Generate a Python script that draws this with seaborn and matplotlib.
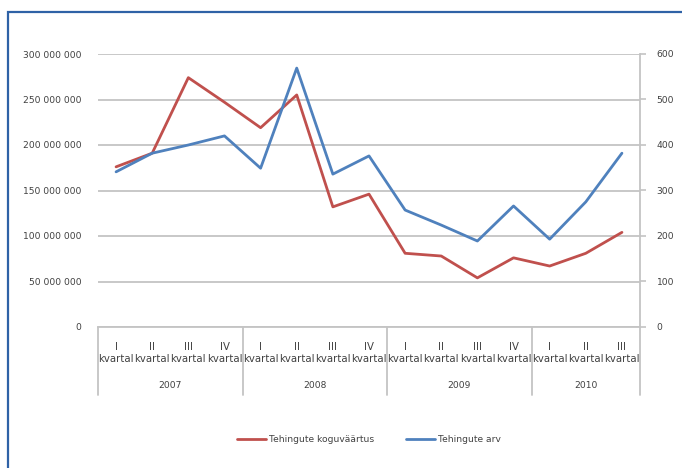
import matplotlib
matplotlib.use("Agg")
import matplotlib.pyplot as plt
import matplotlib.patches as mpatches
import matplotlib.transforms as mtransforms
from matplotlib.ticker import FuncFormatter
import numpy as np
import pandas as pd
import seaborn as sns

# Quarterly transaction data 2007-2010
years = ["2007", "2008", "2009", "2010"]
quarters = ["I", "II", "III", "IV",
            "I", "II", "III", "IV",
            "I", "II", "III", "IV",
            "I", "II", "III"]
quarter_years = ["2007"] * 4 + ["2008"] * 4 + ["2009"] * 4 + ["2010"] * 3
total_value = [176e6, 191e6, 274e6, 247e6,
               219e6, 255e6, 132e6, 146e6,
               81e6, 78e6, 54e6, 76e6,
               67e6, 81e6, 104e6]
deal_count = [341, 382, 400, 420,
              349, 569, 336, 376,
              257, 224, 189, 266,
              193, 275, 382]
left_ticks = [0, 50e6, 100e6, 150e6, 200e6, 250e6, 300e6]
right_ticks = [0, 100, 200, 300, 400, 500, 600]
value_label = "Tehingute koguväärtus"
count_label = "Tehingute arv"

RED = "#c0504d"
BLUE = "#4f81bd"
GRID = "#c4c4c4"
TEXT = "#404040"

df = pd.DataFrame({
    "pos": np.arange(len(quarters)),
    "value": total_value,
    "count": deal_count,
})

sns.set_theme(style="white")
plt.rcParams["font.family"] = ["DejaVu Sans"]

W, H = 682, 468
fig = plt.figure(figsize=(W / 100, H / 100), dpi=100)
fig.patch.set_facecolor("white")

x0, x1, y0, y1 = 98, 640, 54, 327
ax = fig.add_axes([x0 / W, 1 - y1 / H, (x1 - x0) / W, (y1 - y0) / H])
ax2 = ax.twinx()

sns.lineplot(data=df, x="pos", y="value", ax=ax, color=RED, lw=2.0,
             label=value_label, legend=False)
sns.lineplot(data=df, x="pos", y="count", ax=ax2, color=BLUE, lw=2.0,
             label=count_label, legend=False)

ax.set_xlim(-0.5, len(quarters) - 0.5)
ax.set_ylim(0, 300e6)
ax2.set_ylim(0, 600)
ax.set_yticks(left_ticks)
ax2.set_yticks(right_ticks)
ax.yaxis.set_major_formatter(FuncFormatter(lambda v, p: f"{int(v):,}".replace(",", " ")))
ax.grid(axis="y", color=GRID, lw=1.3)
ax.grid(axis="x", visible=False)
ax2.grid(False)
ax.set_axisbelow(True)
ax.set_xlabel("")
ax.set_ylabel("")
ax2.set_xlabel("")
ax2.set_ylabel("")

for a in (ax, ax2):
    for s in a.spines.values():
        s.set_visible(False)
ax.spines["bottom"].set_visible(True)
ax.spines["bottom"].set_color(GRID)
ax.spines["bottom"].set_linewidth(1.3)
ax2.spines["right"].set_visible(True)
ax2.spines["right"].set_color(GRID)
ax2.spines["right"].set_linewidth(1.3)

ax.tick_params(axis="y", length=0, pad=12, labelsize=6.6, labelcolor=TEXT)
ax2.tick_params(axis="y", length=4, width=1.2, color=GRID, pad=8,
                labelsize=6.6, labelcolor=TEXT)

ax.set_xticks(df["pos"])
ax.set_xticklabels([f"{q}\nkvartal" for q in quarters], fontsize=7.3,
                   color=TEXT, linespacing=1.25)
ax.tick_params(axis="x", length=0, pad=11)

# Year groups under the quarter labels
trans = mtransforms.blended_transform_factory(ax.transData, ax.transAxes)
sep_bottom = -(395 - y1) / (y1 - y0)
bounds = [-0.5]
for y in years:
    idx = [i for i, qy in enumerate(quarter_years) if qy == y]
    bounds.append(idx[-1] + 0.5)
    ax.text((idx[0] + idx[-1]) / 2, -(385 - y1) / (y1 - y0), y, transform=trans,
            ha="center", va="center", fontsize=6.6, color=TEXT)
for b in bounds:
    ax.plot([b, b], [0, sep_bottom], transform=trans, color=GRID, lw=1.3,
            clip_on=False)

handles = [plt.Line2D([], [], color=RED, lw=2.0),
           plt.Line2D([], [], color=BLUE, lw=2.0)]
fig.legend(handles, [value_label, count_label], loc="center",
           bbox_to_anchor=(369 / W, 1 - 440 / H), ncol=2, frameon=False,
           fontsize=6.6, handlelength=3.2, handletextpad=0.3,
           columnspacing=3.5, labelcolor=TEXT)

# Blue outer frame
frame = mpatches.Rectangle((8 / W, -0.1), 1.2, (H - 12) / H + 0.1,
                           transform=fig.transFigure, fill=False,
                           edgecolor="#2f62a6", lw=1.6, clip_on=False)
fig.patches.append(frame)

fig.savefig("out.png", dpi=100, facecolor="white")
